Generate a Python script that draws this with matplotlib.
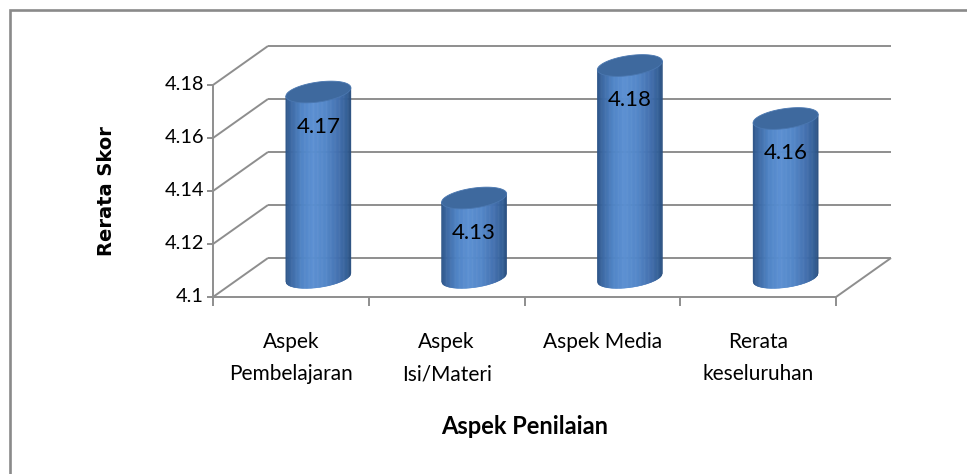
import numpy as np
import matplotlib
matplotlib.use("Agg")
import matplotlib.pyplot as plt
from matplotlib.patches import Polygon, Rectangle
from matplotlib.collections import PolyCollection
from matplotlib.colors import LinearSegmentedColormap

# ---------------- data ----------------
categories = ["Aspek\nPembelajaran", "Aspek\nIsi/Materi", "Aspek Media", "Rerata\nkeseluruhan"]
values = [4.17, 4.13, 4.18, 4.16]
value_labels = ["4.17", "4.13", "4.18", "4.16"]
yticks = [4.10, 4.12, 4.14, 4.16, 4.18]
ytick_labels = ["4.1", "4.12", "4.14", "4.16", "4.18"]
x_title = "Aspek Penilaian"
y_title = "Rerata Skor"

# ---------------- style ----------------
plt.rcParams["font.family"] = ["Lato", "DejaVu Sans"]
W, H, DPI = 967, 474, 100
GRID = "#8e8e8e"
GLW = 1.4

fig = plt.figure(figsize=(W / DPI, H / DPI), dpi=DPI)
fig.patch.set_facecolor("white")

# front plane of the 3D box (pixels)
L, R, B, T = 213, 836, 297, 85
ax = fig.add_axes([L / W, (H - B) / H, (R - L) / W, (B - T) / H])
n = len(values)
x0, x1 = -0.5, n - 0.5
ax.set_xlim(x0, x1)
ax.set_ylim(yticks[0], yticks[-1])
ax.axis("off")

px_x = (R - L) / (x1 - x0)
px_y = (B - T) / (yticks[-1] - yticks[0])
DX, DY = 55, 39                      # depth of the box, px
dxd, dyd = DX / px_x, DY / px_y

kw = dict(color=GRID, lw=GLW, clip_on=False, solid_capstyle="butt", zorder=1)
ybase = yticks[0]
# back wall gridlines + side wall diagonals
for g in yticks:
    ax.plot([x0 + dxd, x1 + dxd], [g + dyd, g + dyd], **kw)
    ax.plot([x0, x0 + dxd], [g, g + dyd], **kw)
# floor
ax.plot([x0, x1], [ybase, ybase], **kw)
ax.plot([x1, x1 + dxd], [ybase, ybase + dyd], **kw)
# front value axis
ax.plot([x0, x0], [ybase, yticks[-1]], **kw)
for g in yticks:
    ax.plot([x0 - 6 / px_x, x0], [g, g], **kw)
# category ticks
for k in range(n + 1):
    xb = x0 + k
    ax.plot([xb, xb], [ybase, ybase - 9 / px_y], **kw)

# ---------------- cylinders ----------------
cmap = LinearSegmentedColormap.from_list(
    "cyl",
    [(0.0, "#2a5286"), (0.08, "#3a67a2"), (0.25, "#4f84c6"), (0.42, "#5a8fd2"),
     (0.62, "#5286c8"), (0.82, "#426fae"), (0.95, "#325e95"), (1.0, "#294f7f")])
A_PX, B_PX, SHEAR = 32.5, 10, 0.13

def ell_y(xpx, sign):
    r = np.clip(1 - (xpx / A_PX) ** 2, 0, None)
    return sign * B_PX * np.sqrt(r) + SHEAR * xpx

NS = 80
for i, v in enumerate(values):
    cx = i + dxd / 2
    yb = ybase + dyd / 2
    yt = v + dyd / 2
    xs = np.linspace(-A_PX, A_PX, NS + 1)
    polys, cols = [], []
    for k in range(NS):
        xa, xb = xs[k], xs[k + 1]
        p = [(cx + xa / px_x, yb + ell_y(xa, -1) / px_y),
             (cx + xb / px_x, yb + ell_y(xb, -1) / px_y),
             (cx + xb / px_x, yt + ell_y(xb, 0) / px_y),
             (cx + xa / px_x, yt + ell_y(xa, 0) / px_y)]
        polys.append(p)
        cols.append(cmap((k + 0.5) / NS))
    pc = PolyCollection(polys, facecolors=cols, edgecolors=cols, linewidths=0.4,
                        clip_on=False, zorder=3)
    ax.add_collection(pc)
    th = np.linspace(0, 2 * np.pi, 200)
    ex = A_PX * np.cos(th)
    ey = B_PX * np.sin(th) + SHEAR * ex
    top = Polygon(np.column_stack([cx + ex / px_x, yt + ey / px_y]), closed=True,
                  facecolor="#3e699e", edgecolor="#4a77b0", lw=0.6,
                  clip_on=False, zorder=4)
    ax.add_patch(top)
    ax.annotate(value_labels[i], xy=(cx, yt), xycoords="data",
                xytext=(0, -35), textcoords="offset pixels", annotation_clip=False,
                ha="center", va="center", fontsize=16, color="black", zorder=6)

# ---------------- text ----------------
for g, lab in zip(yticks, ytick_labels):
    ax.annotate(lab, xy=(0, g), xycoords=("axes fraction", "data"),
                xytext=(-9, 0), textcoords="offset pixels", annotation_clip=False,
                ha="right", va="center", fontsize=14.4, color="black")
for i, lab in enumerate(categories):
    ax.annotate(lab, xy=(i, 0), xycoords=("data", "axes fraction"),
                xytext=(0, -35), textcoords="offset pixels", annotation_clip=False,
                ha="center", va="top", fontsize=15, linespacing=1.76, color="black")
ax.annotate(x_title, xy=(0.5, 0), xycoords="axes fraction",
            xytext=(0, -130), textcoords="offset pixels", annotation_clip=False,
            ha="center", va="center", fontsize=17, fontweight="bold")
ax.annotate(y_title, xy=(0, 0.5), xycoords="axes fraction",
            xytext=(-107, 0), textcoords="offset pixels", annotation_clip=False,
            ha="center", va="center", rotation=90, fontsize=14, fontweight="bold",
            family=["DejaVu Sans"])

# chart border (top and left visible)
fig.patches.append(Rectangle((9.5 / W, -0.2), 1.2, 1.2 - 10 / H,
                             transform=fig.transFigure, fill=False,
                             edgecolor="#8a8a8a", lw=1.9))

fig.savefig("out.png", dpi=DPI)
